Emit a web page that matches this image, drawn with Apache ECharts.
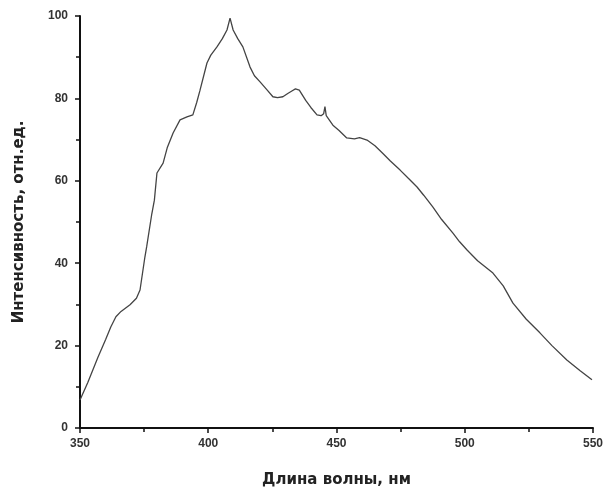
<!DOCTYPE html>
<html>
<head>
<meta charset="utf-8">
<script src="https://cdn.jsdelivr.net/npm/echarts@6/dist/echarts.min.js"></script>
<style>
  html, body { margin: 0; padding: 0; background: #fff; }
  #chart { width: 606px; height: 493px; }
</style>
</head>
<body>
<div id="chart"></div>
<script>
// длина волны, нм
var wavelength = [350, 353, 357, 360, 362, 364, 366, 369.5, 372, 373.4, 375.3, 376, 378, 379, 380, 382.4,
  384, 386.3, 389, 391.7, 394, 395.5, 396.8, 399.5, 401, 403.4, 405.5, 407.3, 408.5, 409.7, 411.5, 413.5,
  416.3, 418, 420.2, 423, 425.2, 427, 429.1, 431, 432.6, 434, 435.5, 438, 440, 442.4, 444, 445, 445.5,
  446, 448.6, 451, 454, 457, 459, 461.9, 465, 468, 471, 474.8, 478, 481.4, 484, 487.6, 491, 495.4,
  498, 500.9, 505, 511, 515, 518.8, 524, 529.3, 534, 539.8, 545, 549.6];
// интенсивность, отн.ед.
var intensity = [6.8, 11, 17.2, 21.5, 24.5, 27, 28.3, 29.9, 31.5, 33.5, 41.5, 44, 52, 55.3, 61.9, 64.3,
  68, 71.6, 74.8, 75.5, 76, 79, 82, 88.6, 90.5, 92.5, 94.5, 96.6, 99.5, 96.6, 94.5, 92.5,
  87.6, 85.5, 84, 82, 80.4, 80.2, 80.4, 81.2, 81.8, 82.3, 82, 79.5, 77.8, 76, 75.8, 76.3, 78,
  75.8, 73.5, 72.2, 70.4, 70.2, 70.5, 69.9, 68.5, 66.7, 64.8, 62.6, 60.6, 58.5, 56.5, 53.6, 50.6, 47.3,
  45.2, 43.2, 40.6, 37.6, 34.5, 30.3, 26.4, 23.1, 20, 16.5, 13.9, 11.7];
var xTicks = [350, 400, 450, 500, 550];
var yTicks = [0, 20, 40, 60, 80, 100];

var points = wavelength.map(function (w, i) { return [w, intensity[i]]; });

var chart = echarts.init(document.getElementById('chart'));
var labelStyle = {
  color: '#333',
  fontSize: 12,
  fontFamily: 'Liberation Sans, Arial, sans-serif',
  fontWeight: 'bold'
};
var nameStyle = {
  color: '#222',
  fontSize: 15,
  fontWeight: 'bold',
  fontFamily: 'DejaVu Sans, sans-serif'
};
chart.setOption({
  animation: false,
  grid: { left: 80, right: 13, top: 16, bottom: 65 },
  xAxis: {
    type: 'value',
    min: xTicks[0],
    max: xTicks[xTicks.length - 1],
    interval: 50,
    name: 'Длина волны, нм',
    nameLocation: 'middle',
    nameGap: 45,
    nameTextStyle: nameStyle,
    axisLine: { lineStyle: { color: '#111', width: 2 } },
    axisTick: { show: true, inside: false, length: 5, lineStyle: { color: '#111', width: 1.5 } },
    minorTick: { show: true, splitNumber: 2, length: 4, lineStyle: { color: '#111', width: 1.5 } },
    axisLabel: Object.assign({ margin: 10 }, labelStyle),
    splitLine: { show: false }
  },
  yAxis: {
    type: 'value',
    min: yTicks[0],
    max: yTicks[yTicks.length - 1],
    interval: 20,
    name: 'Интенсивность, отн.ед.',
    nameLocation: 'middle',
    nameGap: 53,
    nameTextStyle: nameStyle,
    axisLine: { show: true, lineStyle: { color: '#111', width: 2 } },
    axisTick: { show: true, inside: false, length: 5, lineStyle: { color: '#111', width: 1.5 } },
    minorTick: { show: true, splitNumber: 2, length: 4, lineStyle: { color: '#111', width: 1.5 } },
    axisLabel: Object.assign({ margin: 12 }, labelStyle),
    splitLine: { show: false }
  },
  series: [{
    type: 'line',
    data: points,
    showSymbol: false,
    smooth: false,
    lineStyle: { color: '#444', width: 1.3 }
  }]
});
</script>
</body>
</html>
